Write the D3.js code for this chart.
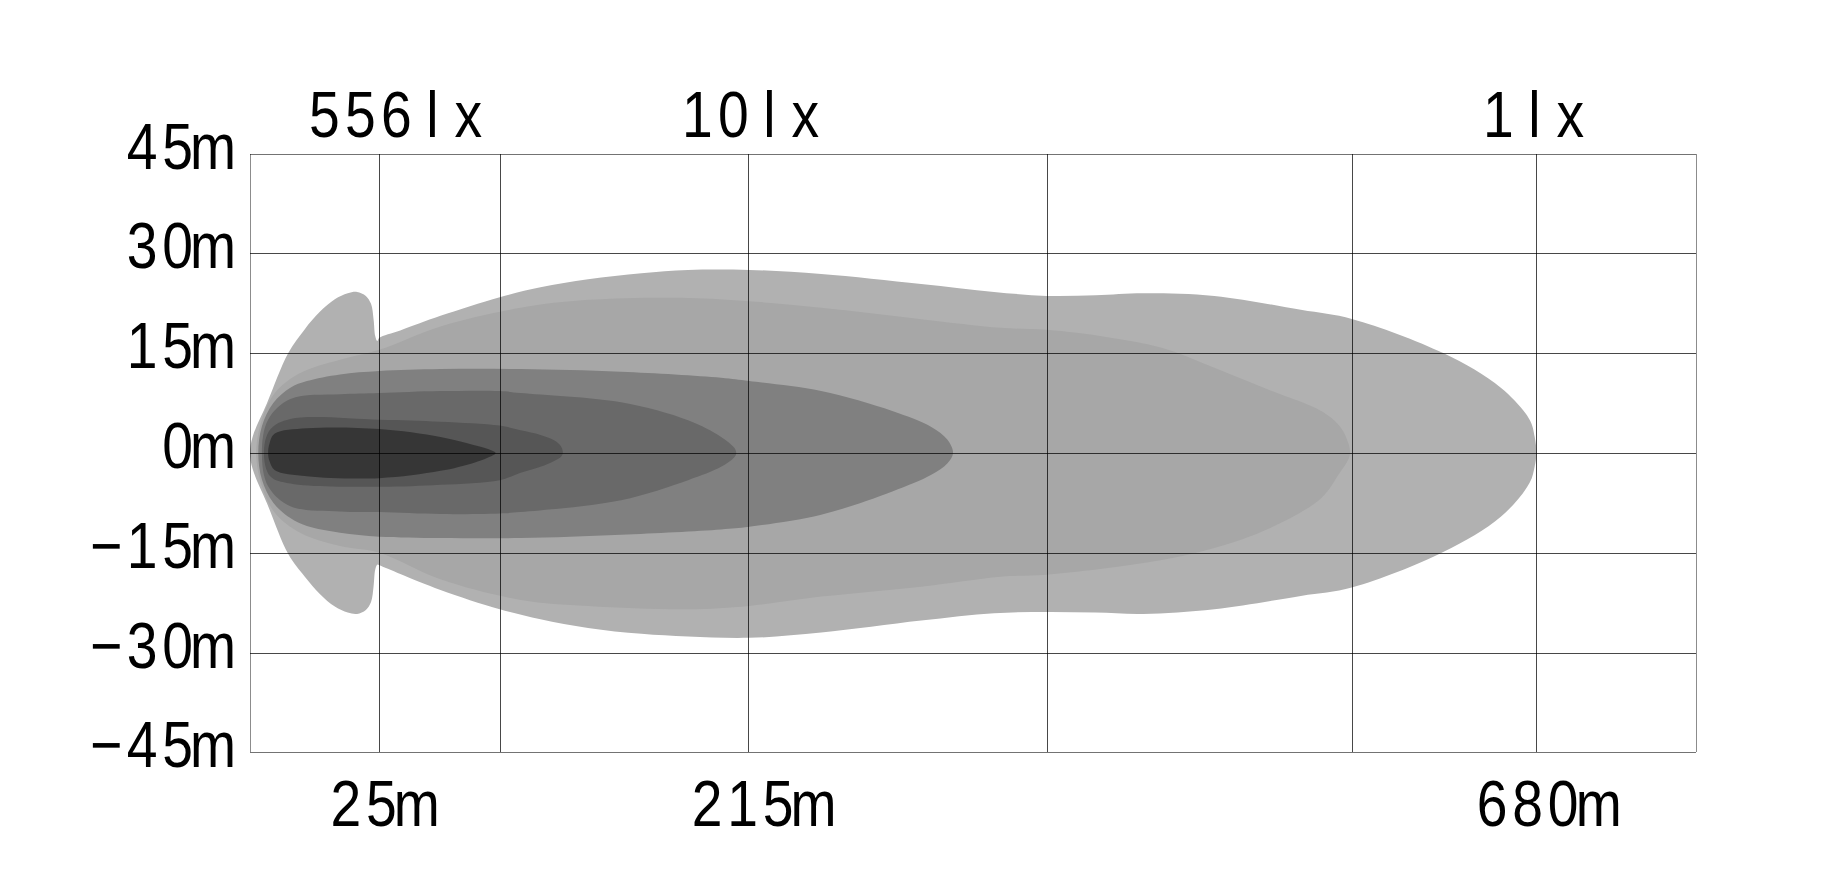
<!DOCTYPE html>
<html>
<head>
<meta charset="utf-8">
<script src="https://cdn.jsdelivr.net/npm/d3@7/dist/d3.min.js"></script>
<style>
  html, body { margin: 0; padding: 0; background: #fff; }
  svg { display: block; }
</style>
</head>
<body>
<svg id="chart" width="1822" height="884"></svg>
<script>
// ---------- DATA ----------
// vertical grid lines (distance, m) and horizontal grid lines (lateral, m)
const gridDistances = [25, 87, 215, 391, 571, 680];
const gridLateral = [-45, -30, -15, 0, 15, 30, 45];
const lateralTickValues = [45, 30, 15, 0, -15, -30, -45];
const lateralTickLabels = ["45m", "30m", "15m", "0m", "\u221215m", "\u221230m", "\u221245m"];
const distanceTickValues = [25, 215, 680];
const distanceTickLabels = ["25m", "215m", "680m"];
const luxPositions = [25, 215, 680];
const luxLabels = ["556lx", "10lx", "1lx"];

// isolux contours: [distance m, upper edge m, lower edge m]
const contour1 = [
  [0, 0, 0], [0.5, 2.4, -2.4], [3.3, 7.5, -7.6], [7.4, 15, -15.2], [10.6, 18.6, -18.6],
  [13.5, 21.2, -21.2], [16.4, 23.1, -23.1], [18.9, 24, -24], [20.7, 24.2, -24.2],
  [22.4, 23.6, -23.6], [23.4, 22.4, -22.4], [23.9, 20, -20], [24.2, 17.6, -17.6],
  [24.6, 16.8, -16.8], [25, 17.3, -16.9], [35.8, 18.4, -18.2], [56.5, 20.6, -20.6],
  [87, 23.4, -23.5], [108, 24.9, -25], [132.5, 26.1, -26.3], [160, 27, -27.2],
  [184, 27.5, -27.6], [215.6, 27.5, -27.8], [258, 26.9, -27], [317, 25.4, -25.2],
  [360, 24.2, -24.1], [391, 23.6, -23.9], [420, 23.7, -24], [448, 24, -24.2],
  [490, 23.6, -23.5], [541, 21.5, -21.5], [571.6, 20.1, -20.2], [625, 15, -14.9],
  [659, 9.8, -9.6], [676, 5, -4.5], [679, 2.4, -2], [680, 0, 0]
];
const contour2 = [
  [1.2, 0, 0], [2.3, 5, -5], [4.8, 9, -9], [9.7, 12, -12], [17.4, 14, -14],
  [25, 15.5, -15], [56.5, 19, -19], [97.8, 21.8, -22.1], [132.5, 23, -23],
  [184, 23.3, -23.5], [215.6, 22.8, -23], [258, 21.8, -21.6], [317, 20.1, -20.1],
  [364, 18.8, -18.6], [391, 18.5, -18.3], [427, 17.4, -17.3], [459, 15.8, -16.1],
  [490, 12.8, -14.3], [522, 9.5, -11.4], [553, 6.3, -6.8], [564, 4, -3],
  [569, 1.5, -1], [570, 0, 0]
];
const contour3 = [
  [1.6, 0, 0], [2.3, 4, -4], [4.5, 7.5, -7.5], [7.8, 9.8, -9.8], [11, 10.8, -11],
  [17.4, 11.8, -12], [25, 12.3, -12.6], [56.5, 12.6, -12.8], [97.8, 12.6, -12.8],
  [149.5, 12.2, -12.3], [201, 11.3, -11.5], [215.6, 10.8, -11.1], [258, 9.3, -9.3],
  [300, 6.3, -5.8], [323, 3.9, -3.3], [332.4, 2, -1.6], [335.8, 0, 0]
];
const contour4 = [
  [2.3, 0, 0], [3.5, 5, -5], [7.8, 8.1, -8], [17.4, 8.8, -8.8], [25, 9, -8.9],
  [56.5, 9.3, -9.2], [87, 9.3, -9.1], [97.8, 9, -8.9], [149.5, 7.6, -7.1],
  [184, 4.9, -4.1], [201, 2.4, -2.1], [207.7, 0.8, -0.7], [208.8, 0, 0]
];
const contour5 = [
  [2.7, 0, 0], [3.9, 3.5, -3.5], [7.8, 5.1, -4.6], [25, 5, -5.1], [56.5, 4.7, -4.8],
  [87, 4.1, -4.1], [97.8, 3.4, -3], [108, 2.7, -2.1], [115, 1.9, -1.2],
  [118.5, 1, -0.6], [119.5, 0, 0]
];
const contour6 = [
  [3.5, 0, 0], [3.8, 1.5, -1.3], [4.8, 2.9, -2.6], [11, 3.7, -3.5], [25, 3.6, -3.8],
  [56.5, 2.4, -2.7], [73.5, 1.2, -1.5], [81, 0.6, -0.7], [84.9, 0, 0]
];
const contours = [contour1, contour2, contour3, contour4, contour5, contour6];

// ---------- LAYOUT / STYLE ----------
const contourColors = ["#b1b1b1", "#a7a7a7", "#808080", "#696969", "#565656", "#363636"];
const luxLabelNudge = [17, 3, -2];
const distanceLabelNudge = [2, 12, 9];

// ---------- SCALES ----------
const svg = d3.select("#chart");
const x = d3.scaleLinear()
  .domain([0, 25, 215, 680, 774])
  .range([250, 379.3, 748.3, 1536.4, 1695.7]);
const y = d3.scaleLinear().domain([-45, 45]).range([752.3, 153.5]);

// ---------- CONTOURS ----------
// closed outline: upper edge left->right, then lower edge right->left
function outline(rows) {
  const top = rows.map(r => [x(r[0]), y(r[1])]);
  const bottom = rows.slice(1, -1).reverse().map(r => [x(r[0]), y(r[2])]);
  return top.concat(bottom);
}
const line = d3.line().curve(d3.curveCatmullRomClosed.alpha(0.5));

svg.append("g").selectAll("path")
  .data(contours)
  .join("path")
  .attr("d", d => line(outline(d)))
  .attr("fill", (d, i) => contourColors[i])
  .attr("stroke", "none");

// ---------- GRID ----------
const grid = svg.append("g").attr("shape-rendering", "crispEdges");
grid.selectAll("line.v")
  .data(gridDistances)
  .join("line")
  .attr("class", "v")
  .attr("x1", d => Math.round(x(d)) + 0.5).attr("x2", d => Math.round(x(d)) + 0.5)
  .attr("y1", y(45)).attr("y2", y(-45))
  .attr("stroke", "#000").attr("stroke-opacity", 0.72).attr("stroke-width", 1);
grid.selectAll("line.h")
  .data(gridLateral)
  .join("line")
  .attr("class", "h")
  .attr("x1", x(0)).attr("x2", x(774))
  .attr("y1", d => Math.round(y(d)) + 0.5).attr("y2", d => Math.round(y(d)) + 0.5)
  .attr("stroke", "#000").attr("stroke-opacity", d => (Math.abs(d) === 45 ? 0.55 : 0.72))
  .attr("stroke-width", 1);
grid.selectAll("line.b")
  .data([0, 774])
  .join("line")
  .attr("class", "b")
  .attr("x1", d => Math.round(x(d)) + 0.5).attr("x2", d => Math.round(x(d)) + 0.5)
  .attr("y1", y(45)).attr("y2", y(-45))
  .attr("stroke", "#000").attr("stroke-opacity", 0.45).attr("stroke-width", 1);

// ---------- TEXT ----------
const FONT = "'Liberation Sans', Arial, sans-serif";
const SX = 0.85;
function monoText(str, cx, baseline, cell) {
  const chars = [...str];
  const n = chars.length;
  const t = svg.append("text")
    .attr("transform", `translate(${cx},${baseline}) scale(${SX},1)`)
    .attr("font-family", FONT)
    .attr("font-size", 65)
    .attr("text-anchor", "middle")
    .attr("fill", "#000");
  chars.forEach((ch, i) => {
    t.append("tspan").attr("x", ((i - (n - 1) / 2) * cell) / SX).attr("y", 0).text(ch);
  });
}

// lateral labels (right aligned, last cell centred at 213)
lateralTickValues.forEach((v, i) => {
  const s = lateralTickLabels[i];
  const n = [...s].length;
  const cell = 35.5;
  monoText(s, 213 - ((n - 1) / 2) * cell, y(v) + 15, cell);
});

// distance labels
distanceTickValues.forEach((v, i) => {
  monoText(distanceTickLabels[i], x(v) + distanceLabelNudge[i], 826, 35.5);
});

// lux labels
luxPositions.forEach((v, i) => {
  monoText(luxLabels[i], x(v) + luxLabelNudge[i], 137, 36);
});
</script>
</body>
</html>
